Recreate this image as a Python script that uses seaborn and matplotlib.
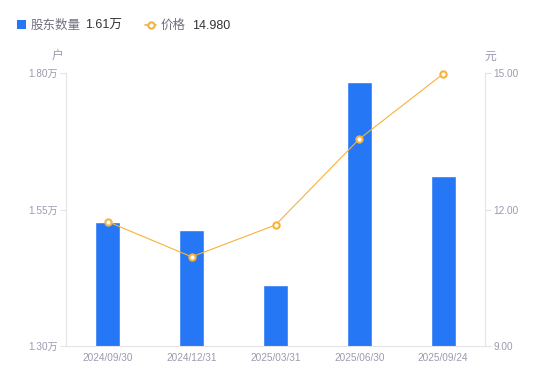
import numpy as np
import pandas as pd
import matplotlib
matplotlib.use("Agg")
import matplotlib.pyplot as plt
from matplotlib.lines import Line2D
from matplotlib.patches import Rectangle
import seaborn as sns

dates = ["2024/09/30", "2024/12/31", "2025/03/31", "2025/06/30", "2025/09/24"]
holders = [1.527, 1.512, 1.412, 1.784, 1.611]  # 万户
prices = [11.73, 10.96, 11.66, 13.55, 14.98]
left_ticks = [1.30, 1.55, 1.80]
left_labels = ["1.30万", "1.55万", "1.80万"]
right_ticks = [9.0, 12.0, 15.0]
right_labels = ["9.00", "12.00", "15.00"]

sns.set_theme(style="white")
plt.rcParams['font.family'] = ['Liberation Sans', 'Noto Sans CJK SC', 'DejaVu Sans']

BLUE = "#2577F5"
ORANGE = "#F7B23B"
GRAY = "#9A9AAE"
SPINE = "#E3E3E8"

df = pd.DataFrame({"date": dates, "holders": holders, "price": prices, "pos": np.arange(len(dates))})

fig = plt.figure(figsize=(5.5, 3.81), dpi=100)
ax = fig.add_axes([66/550, 35/381, (485-66)/550, (346-73)/381])
sns.barplot(data=df, x="date", y="holders", color=BLUE, width=0.3, ax=ax, saturation=1)
ax.set_ylim(1.30, 1.80)
ax.set_xlim(-0.5, len(dates) - 0.5)
ax.set_yticks(left_ticks)
ax.set_yticklabels(left_labels)
ax.set_xlabel("")
ax.set_ylabel("")

ax2 = ax.twinx()
sns.lineplot(data=df, x="pos", y="price", color=ORANGE, linewidth=0.8, marker="o",
             markersize=4.5, markerfacecolor="white", markeredgecolor=ORANGE,
             markeredgewidth=1.5, ax=ax2, clip_on=False)
ax2.set_ylim(9.0, 15.0)
ax2.set_yticks(right_ticks)
ax2.set_yticklabels(right_labels)
ax2.set_xlabel("")
ax2.set_ylabel("")
ax2.set_xlim(-0.5, len(dates) - 0.5)

for a in (ax, ax2):
    for s in a.spines.values():
        s.set_visible(False)
    a.tick_params(axis="both", labelsize=7.2, colors=GRAY, length=0)
ax.spines["left"].set_visible(True)
ax.spines["left"].set_color(SPINE)
ax.spines["left"].set_linewidth(0.8)
ax.spines["bottom"].set_visible(True)
ax.spines["bottom"].set_color(SPINE)
ax.spines["bottom"].set_linewidth(0.8)
ax2.spines["right"].set_visible(True)
ax2.spines["right"].set_color(SPINE)
ax2.spines["right"].set_linewidth(0.8)
ax.tick_params(axis="y", length=4, width=0.8, color=SPINE, pad=2)
ax2.tick_params(axis="y", length=4, width=0.8, color=SPINE, pad=2)
ax.tick_params(axis="x", pad=5)
ax2.tick_params(axis="x", bottom=False, labelbottom=False)

# unit labels
fig.text(58/550, 1 - 57/381, "户", fontsize=8.5, color=GRAY, ha="center", va="center")
fig.text(490/550, 1 - 57/381, "元", fontsize=8.5, color=GRAY, ha="center", va="center")

# legend
ly = 1 - 24.5/381
fig.patches.append(Rectangle((17/550, ly - 4.5/381), 8.5/550, 9/381, transform=fig.transFigure,
                             facecolor=BLUE, edgecolor="none"))
fig.text(31/550, ly, "股东数量", fontsize=9, color="#707080", va="center_baseline")
fig.text(85/550, ly, "1.61万", fontsize=9, color="#333333", va="center_baseline")
fig.lines.append(Line2D([145/550, 156/550], [ly, ly], transform=fig.transFigure, color=ORANGE,
                        linewidth=1.2))
fig.lines.append(Line2D([150.5/550], [ly], transform=fig.transFigure, color=ORANGE,
                        marker="o", markersize=4.5, markerfacecolor="white", markeredgewidth=1.5))
fig.text(161/550, ly, "价格", fontsize=9, color="#707080", va="center_baseline")
fig.text(192/550, ly, "14.980", fontsize=9, color="#333333", va="center_baseline")

fig.savefig("out.png", dpi=100)
